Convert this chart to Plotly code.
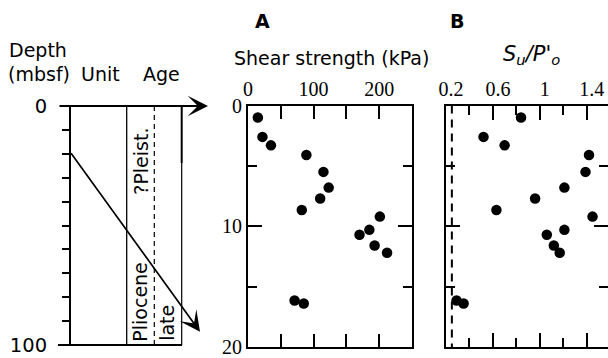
import plotly.graph_objects as go

# ---------------- data ----------------
depth_m = [1.0, 2.6, 3.3, 4.1, 5.5, 6.8, 7.7, 8.65, 9.2, 10.3, 10.7, 11.6, 12.2, 16.15, 16.4]
shear_kpa = [15, 22, 35, 89, 115, 123, 110, 82, 201, 185, 170, 193, 212, 71, 85]
su_po = [0.84, 0.52, 0.70, 1.42, 1.39, 1.21, 0.96, 0.63, 1.45, 1.21, 1.06, 1.12, 1.17, 0.29, 0.35]
nc_ratio = 0.25          # dashed reference line in panel B
depth_window = [0, 20]   # depth range of panels A and B
column_depth = [0, 100]  # depth range of the left column

W, H = 608, 358
SERIF = "Liberation Serif, Times New Roman, Times, serif"
SANS = "DejaVu Sans, Verdana, sans-serif"


def px(x):
    return x / W


def py(y):
    return 1 - y / H


fig = go.Figure()

fig.add_trace(go.Scatter(x=shear_kpa, y=depth_m, mode="markers", xaxis="x", yaxis="y",
                         marker=dict(color="black", size=10.5), hoverinfo="skip"))
fig.add_trace(go.Scatter(x=[nc_ratio, nc_ratio], y=depth_window, mode="lines", xaxis="x2", yaxis="y2",
                         line=dict(color="black", width=2, dash="8px,6px"), hoverinfo="skip"))
fig.add_trace(go.Scatter(x=su_po, y=depth_m, mode="markers", xaxis="x2", yaxis="y2",
                         marker=dict(color="black", size=10.5), hoverinfo="skip"))
# invisible trace to create the depth-column subplot
fig.add_trace(go.Scatter(x=[None], y=[None], xaxis="x3", yaxis="y3", mode="markers",
                         showlegend=False, hoverinfo="skip"))

frame = dict(showline=True, linecolor="black", linewidth=2, mirror="ticks",
             ticks="inside", tickcolor="black", tickwidth=2, automargin=False,
             showgrid=False, zeroline=False, fixedrange=True)
serif_font = dict(family=SERIF, size=20, color="black")

ydom = [py(347), py(105.5)]

fig.update_layout(
    template="none",
    width=W, height=H, margin=dict(l=0, r=0, t=0, b=0, pad=0), autosize=False,
    paper_bgcolor="white", plot_bgcolor="white", showlegend=False,
    xaxis=dict(domain=[px(248), px(412)], range=[0, 250], side="top", anchor="y",
               tick0=0, dtick=100, ticklen=13,
               minor=dict(dtick=50, tick0=0, ticks="inside", ticklen=13, tickwidth=2, tickcolor="black"),
               tickfont=serif_font, **frame),
    yaxis=dict(domain=ydom, range=depth_window[::-1], anchor="x",
               tick0=0, dtick=10, ticklen=14,
               minor=dict(dtick=5, tick0=0, ticks="inside", ticklen=9, tickwidth=2, tickcolor="black"),
               tickfont=serif_font, **frame),
    xaxis2=dict(domain=[px(446), 1.0], range=[0.2, 1.582], side="top", anchor="y2",
                tick0=0.2, dtick=0.4, ticklen=14, ticklabelshift=5,
                minor=dict(dtick=0.2, tick0=0.2, ticks="inside", ticklen=9, tickwidth=2, tickcolor="black"),
                tickfont=serif_font, **frame),
    yaxis2=dict(domain=ydom, range=depth_window[::-1], anchor="x2", showticklabels=False,
                tick0=0, dtick=10, ticklen=14,
                minor=dict(dtick=5, tick0=0, ticks="inside", ticklen=9, tickwidth=2, tickcolor="black"),
                **frame),
    xaxis3=dict(domain=[px(71), px(182)], range=[0, 1], anchor="y3", visible=False,
                fixedrange=True, automargin=False),
    yaxis3=dict(domain=[py(345), py(106)], range=column_depth[::-1], anchor="x3",
                showline=True, linecolor="black", linewidth=2, ticks="outside", ticklen=7,
                tickwidth=2, tickcolor="black", tickvals=list(range(0, 101, 10)),
                ticktext=["0"] + [""] * 9 + ["100"], showgrid=False, zeroline=False,
                automargin=False, ticklabelstandoff=11,
                tickfont=dict(family=SANS, size=19.5, color="black"), fixedrange=True),
)

# ---------------- left column drawing ----------------
shapes = []


def seg(x0, y0, x1, y1, width=2, dash="solid"):
    shapes.append(dict(type="line", xref="paper", yref="paper",
                       x0=px(x0), y0=py(y0), x1=px(x1), y1=py(y1),
                       line=dict(color="black", width=width, dash=dash)))


seg(58, 345, 182, 345, 2)            # bottom of column
seg(126.7, 106, 126.7, 345, 1.3)     # unit / age divider
seg(154.3, 106, 154.3, 345, 1.2, "5px,4px")
seg(181.7, 106, 181.7, 163, 2)
seg(181.7, 163, 181.7, 345, 1.2)
fig.update_layout(shapes=shapes)

ann = []
# arrows
ann.append(dict(x=px(208), y=py(106), xref="paper", yref="paper", ax=-150, ay=0,
                axref="pixel", ayref="pixel", text="", showarrow=True,
                arrowhead=3, arrowsize=1.7, arrowwidth=2, arrowcolor="black", standoff=0))
ann.append(dict(x=px(200), y=py(331.7), xref="paper", yref="paper", ax=-130, ay=-180,
                axref="pixel", ayref="pixel", text="", showarrow=True,
                arrowhead=3, arrowsize=2.0, arrowwidth=1.7, arrowcolor="black", standoff=0))


def label(text, x, y, size=19, xanchor="center", angle=0, family=SANS):
    ann.append(dict(text=text, x=px(x), y=py(y), xref="paper", yref="paper",
                    xanchor=xanchor, yanchor="middle", showarrow=False, textangle=angle,
                    font=dict(family=family, size=size, color="black")))


label("Depth", 7, 50, xanchor="left")
label("(mbsf)", 6, 74, xanchor="left")
label("Unit", 100, 73.5)
label("Age", 161, 74)
label("?Pleist.", 141, 161.7, angle=-90)
label("Pliocene", 140, 301.7, angle=-90)
label("late", 167.5, 323.3, angle=-90)
label("<b>A</b>", 262, 21.5)
label("<b>B</b>", 457, 20.7)
label("Shear strength (kPa)", 331.5, 58)
label("<i>S<sub>u</sub>/P'<sub>o</sub></i>", 531, 55, size=21)

fig.update_layout(annotations=ann)

fig.write_html("out.html")
